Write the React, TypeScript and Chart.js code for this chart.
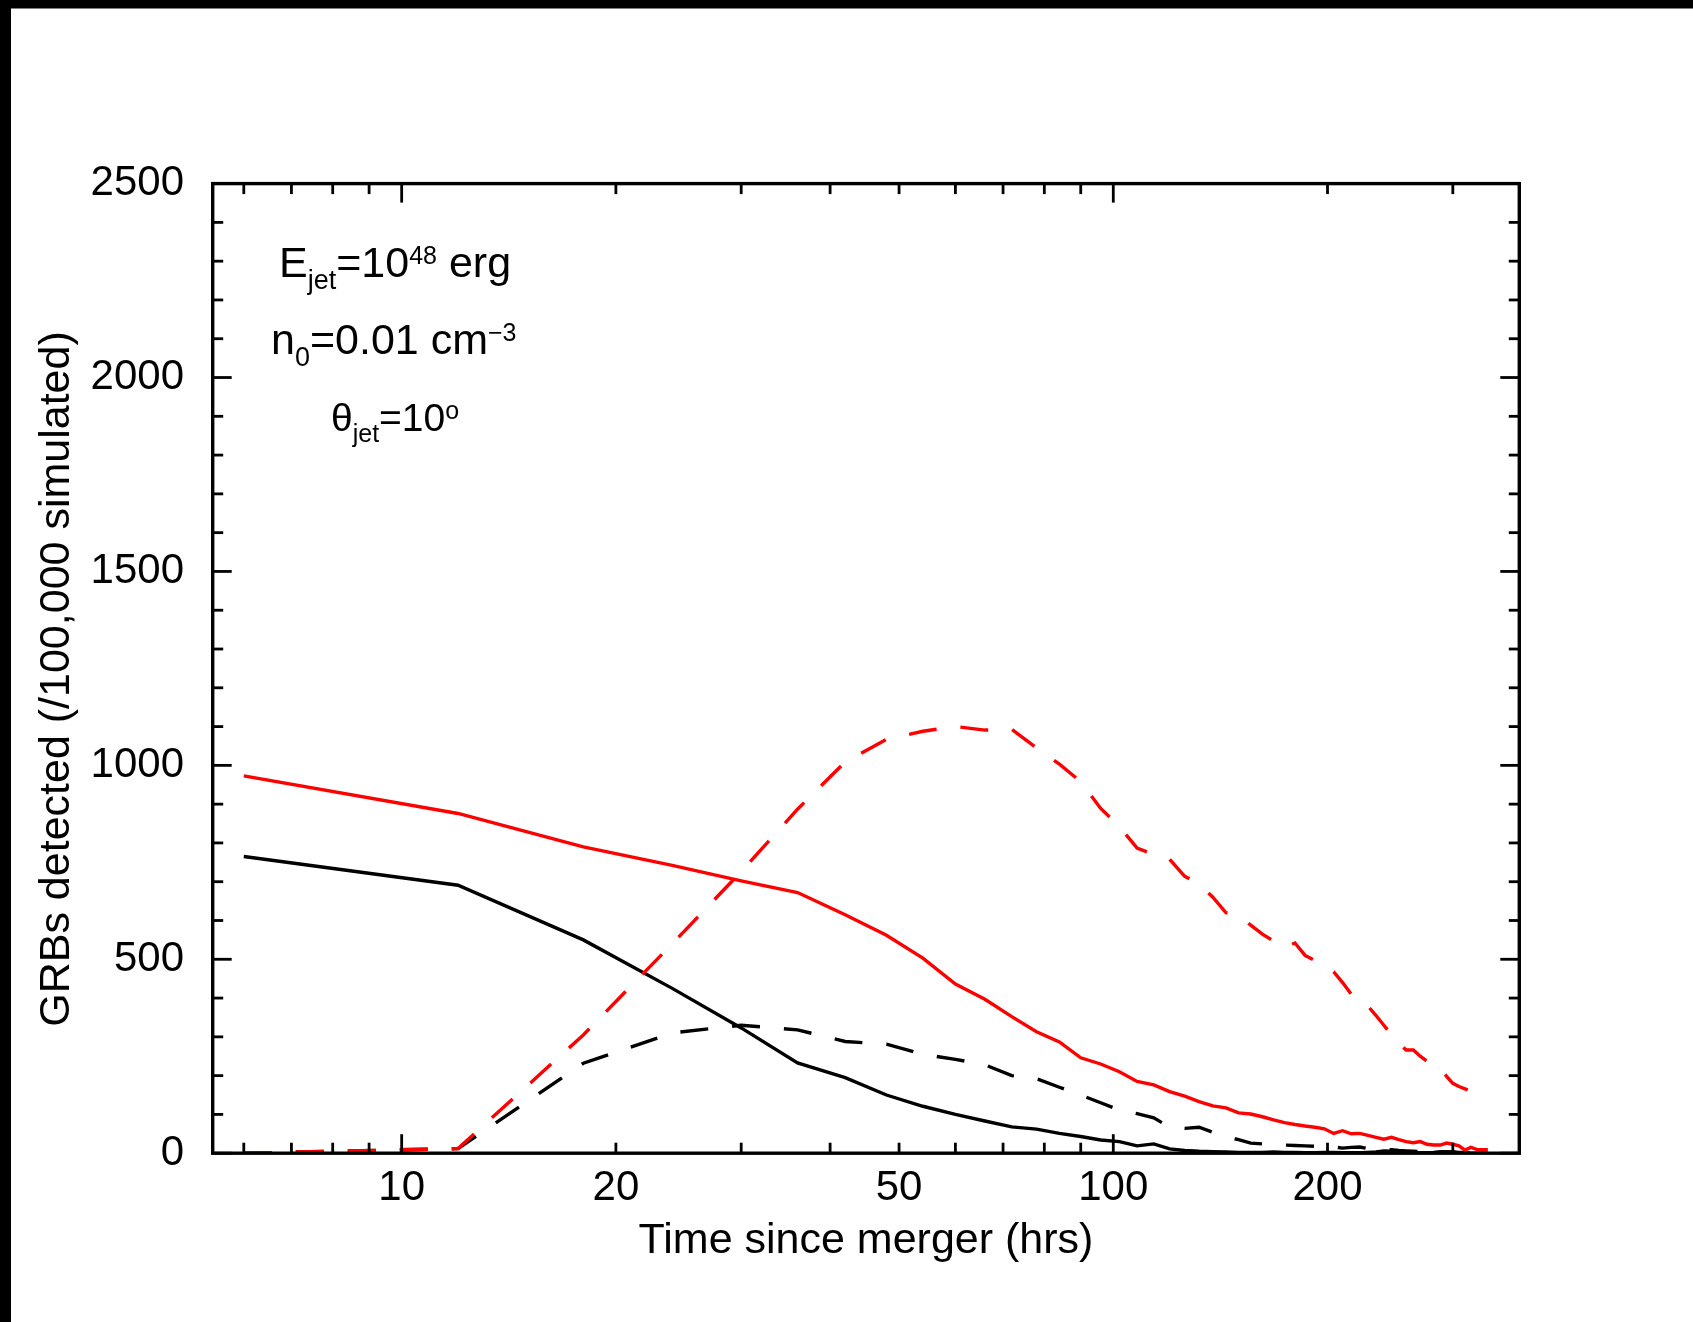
import { useEffect, useRef } from "react";
import { Chart, registerables } from "chart.js";

Chart.register(...registerables);

// ---------------- data ----------------
const hours = [6, 12, 18, 24, 30, 36, 42, 48, 54, 60, 66, 72, 78, 84, 90, 96, 102, 108, 114, 120, 126, 132, 138, 144, 150, 156, 162, 168, 174, 180, 186, 192, 198, 204, 210, 216, 222, 228, 234, 240, 246, 252, 258, 264, 270, 276, 282, 288, 294, 300, 306, 312, 318, 324, 330, 336];

const redSolid = [973, 876, 790, 742, 702, 672, 615, 562, 503, 436, 397, 352, 313, 287, 246, 230, 210, 185, 176, 159, 147, 133, 122, 117, 104, 101, 94, 86, 79, 74, 70, 67, 63, 51, 58, 50, 51, 46, 41, 36, 41, 35, 30, 27, 30, 23, 21, 21, 26, 23, 19, 8, 15, 10, 9, 9];

const redDashed = [0, 12, 305, 540, 726, 887, 1009, 1067, 1088, 1100, 1091, 1093, 1045, 1003, 958, 889, 842, 787, 770, 758, 714, 695, 660, 620, 614, 588, 565, 547, 530, 542, 510, 497, 482, 468, 440, 410, 388, 379, 355, 330, 305, 283, 266, 266, 250, 237, 223, 219, 198, 180, 172, 166, 160, 154, 146, 135];

const blackSolid = [765, 691, 550, 425, 323, 233, 195, 150, 121, 100, 83, 68, 62, 51, 43, 34, 30, 19, 24, 11, 7, 5, 4, 3, 2, 2, 2, 3, 2, 2, 1, 1, 2, 2, 1, 1, 1, 2, 3, 6, 5, 2, 1, 1, 1, 1, 2, 4, 4, 3, 1, 1, 0, 0, 0, 0];

const blackDashed = [0, 12, 232, 310, 330, 318, 288, 281, 255, 242, 228, 200, 192, 170, 150, 130, 111, 102, 91, 67, 64, 67, 54, 42, 35, 26, 24, 22, 21, 20, 19, 18, 19, 16, 13, 15, 16, 12, 10, 10, 9, 7, 6, 5, 4, 3, 3, 4, 3, 3, 2, 2, 1, 1, 1, 1];

const xTickValues = [6, 7, 8, 9, 10, 20, 30, 40, 50, 60, 70, 80, 90, 100, 200, 300];
const xMajorTicks = [10, 100];
const xLabeledTicks = [10, 20, 50, 100, 200];
const yMajorTicks = [0, 500, 1000, 1500, 2000, 2500];
const yMinorTicks = [100, 200, 300, 400, 600, 700, 800, 900, 1100, 1200, 1300, 1400, 1600, 1700, 1800, 1900, 2100, 2200, 2300, 2400];

const xTitle = "Time since merger (hrs)";
const yTitle = "GRBs detected (/100,000 simulated)";

// ---------------- layout ----------------
const W = 1693;
const H = 1322;
const FONT = "'Liberation Sans', Arial, Helvetica, sans-serif";
const PLOT_LEFT = 212.7;
const PLOT_TOP = 183.6;
const PLOT_RIGHT = 1519.3;
const PLOT_BOTTOM = 1153.2;
const X_AXIS_H = 100;
const LINE_W = 3.4;

type Part = { text: string; size: number; dy?: number };

function drawRich(ctx: CanvasRenderingContext2D, x: number, y: number, parts: Part[]) {
  let cx = x;
  for (const p of parts) {
    ctx.font = `${p.size}px ${FONT}`;
    ctx.fillText(p.text, cx, y + (p.dy || 0));
    cx += ctx.measureText(p.text).width;
  }
}

const framePlugin = {
  id: "framePlugin",
  beforeDraw(chart: any) {
    const ctx = chart.ctx as CanvasRenderingContext2D;
    ctx.save();
    ctx.fillStyle = "#ffffff";
    ctx.fillRect(0, 0, W, H);
    ctx.fillStyle = "#000000";
    ctx.fillRect(0, 0, W, 8.5);
    ctx.fillRect(0, 0, 11, H);
    ctx.restore();
  },
  afterDraw(chart: any) {
    const ctx = chart.ctx as CanvasRenderingContext2D;
    const a = chart.chartArea;
    const xs = chart.scales.x;
    const ys = chart.scales.y;
    ctx.save();
    ctx.strokeStyle = "#000";
    ctx.lineCap = "butt";
    ctx.lineWidth = 2.8;
    const seg = (x1: number, y1: number, x2: number, y2: number) => {
      ctx.beginPath();
      ctx.moveTo(x1, y1);
      ctx.lineTo(x2, y2);
      ctx.stroke();
    };
    for (const v of xTickValues) {
      const px = xs.getPixelForValue(v);
      const len = xMajorTicks.includes(v) ? 19 : 10.5;
      seg(px, a.bottom, px, a.bottom - len);
      seg(px, a.top, px, a.top + len);
    }
    for (const v of yMajorTicks) {
      const py = ys.getPixelForValue(v);
      seg(a.left, py, a.left + 19, py);
      seg(a.right, py, a.right - 19, py);
    }
    for (const v of yMinorTicks) {
      const py = ys.getPixelForValue(v);
      seg(a.left, py, a.left + 10.5, py);
      seg(a.right, py, a.right - 10.5, py);
    }
    ctx.lineWidth = 3.4;
    ctx.strokeRect(a.left, a.top, a.right - a.left, a.bottom - a.top);

    // annotations
    ctx.fillStyle = "#000";
    ctx.textAlign = "left";
    ctx.textBaseline = "alphabetic";
    drawRich(ctx, 279, 277, [
      { text: "E", size: 43 },
      { text: "jet", size: 27, dy: 12 },
      { text: "=10", size: 43 },
      { text: "48", size: 25, dy: -13 },
      { text: " erg", size: 43 },
    ]);
    drawRich(ctx, 271, 354, [
      { text: "n", size: 43 },
      { text: "0", size: 27, dy: 12 },
      { text: "=0.01 cm", size: 43 },
      { text: "\u22123", size: 25, dy: -13 },
    ]);
    drawRich(ctx, 331, 431, [
      { text: "\u03b8", size: 39 },
      { text: "jet", size: 25, dy: 11 },
      { text: "=10", size: 39 },
      { text: "o", size: 25, dy: -12 },
    ]);

    // axis titles
    ctx.font = `43px ${FONT}`;
    ctx.textAlign = "center";
    ctx.fillText(xTitle, (a.left + a.right) / 2, 1253);
    ctx.save();
    ctx.translate(68.5, 679);
    ctx.rotate(-Math.PI / 2);
    ctx.fillText(yTitle, 0, 0);
    ctx.restore();
    ctx.restore();
  },
};

const pts = (vals: number[]) => hours.map((h, i) => ({ x: h, y: vals[i] }));

export default function App() {
  const ref = useRef<HTMLCanvasElement>(null);
  useEffect(() => {
    Chart.defaults.font.family = FONT;
    const line = (label: string, vals: number[], color: string, dashed: boolean) => ({
      label,
      data: pts(vals),
      borderColor: color,
      borderWidth: LINE_W,
      borderDash: dashed ? [28, 24] : [],
      pointRadius: 0,
      tension: 0,
      fill: false,
    });
    const chart = new Chart(ref.current as HTMLCanvasElement, {
      type: "line",
      data: {
        datasets: [
          line("red dashed", redDashed, "#ff0000", true),
          line("red solid", redSolid, "#ff0000", false),
          line("black dashed", blackDashed, "#000000", true),
          line("black solid", blackSolid, "#000000", false),
        ],
      },
      options: {
        responsive: false,
        animation: false,
        devicePixelRatio: 1,
        layout: {
          padding: {
            left: 0,
            top: PLOT_TOP,
            right: W - PLOT_RIGHT,
            bottom: H - PLOT_BOTTOM - X_AXIS_H,
          },
        },
        plugins: {
          legend: { display: false },
          tooltip: { enabled: false },
          title: { display: false },
        },
        scales: {
          x: {
            type: "logarithmic",
            position: "bottom",
            min: 5.4257,
            max: 372.0,
            grid: { display: false, drawTicks: false },
            border: { display: false },
            afterBuildTicks: (scale: any) => {
              scale.ticks = xTickValues.map((v) => ({ value: v }));
            },
            afterFit: (scale: any) => {
              scale.height = X_AXIS_H;
            },
            ticks: {
              autoSkip: false,
              maxRotation: 0,
              minRotation: 0,
              padding: 10,
              color: "#000",
              font: { size: 42, family: FONT },
              callback: (v: any) => (xLabeledTicks.includes(Number(v)) ? String(v) : ""),
            },
          },
          y: {
            type: "linear",
            position: "left",
            min: 0,
            max: 2500,
            grid: { display: false, drawTicks: false },
            border: { display: false },
            afterBuildTicks: (scale: any) => {
              scale.ticks = yMajorTicks.map((v) => ({ value: v }));
            },
            afterFit: (scale: any) => {
              scale.width = PLOT_LEFT;
            },
            ticks: {
              padding: 28.7,
              color: "#000",
              font: { size: 42, family: FONT },
              callback: (v: any) => String(v),
            },
          },
        },
      },
      plugins: [framePlugin],
    } as any);
    return () => chart.destroy();
  }, []);
  return (
    <div style={{ position: "absolute", left: 0, top: 0, width: W, height: H, background: "#fff" }}>
      <canvas ref={ref} width={W} height={H} style={{ display: "block", width: W, height: H }} />
    </div>
  );
}
